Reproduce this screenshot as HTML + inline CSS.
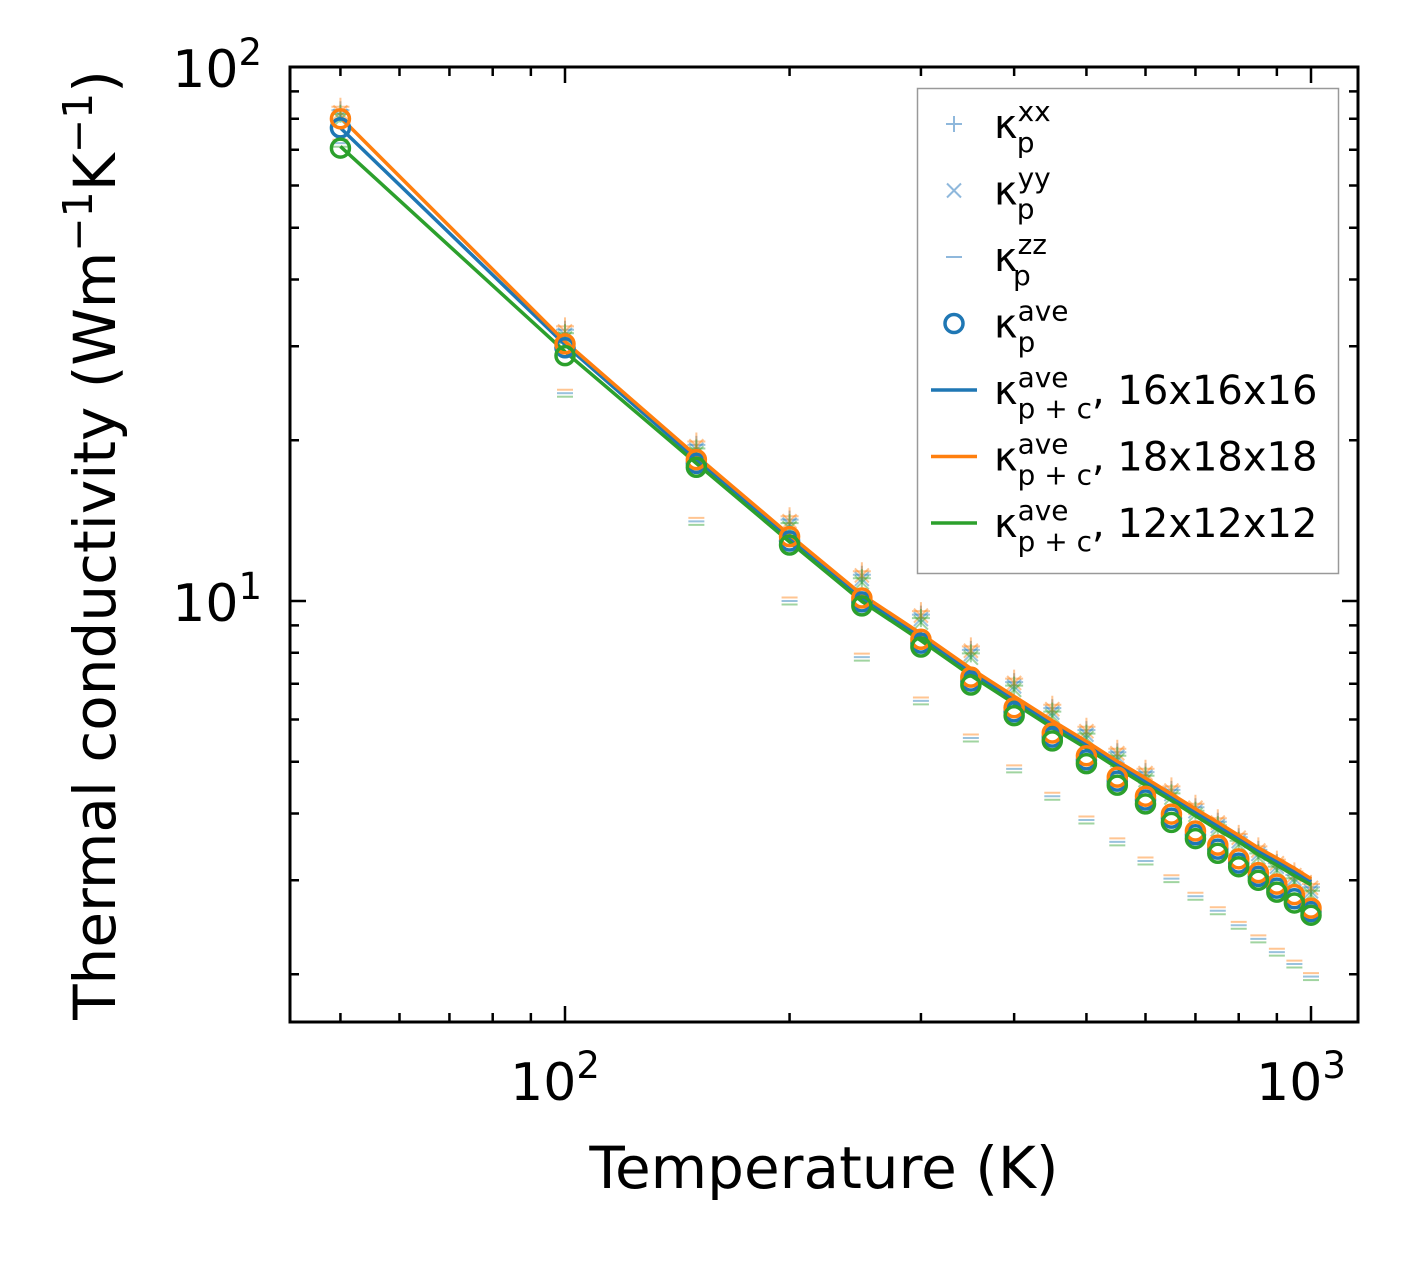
<!DOCTYPE html>
<html><head><meta charset="utf-8"><style>
body{margin:0;background:#fff;}
svg{display:block;font-family:"DejaVu Sans","Liberation Sans",sans-serif;}
</style></head><body>
<svg id="chart" width="1420" height="1261" viewBox="0 0 1420 1261" xmlns="http://www.w3.org/2000/svg">
<rect width="1420" height="1261" fill="#fff"/>
<g id="marks"></g>
<g id="axes"></g>
<text x="824" y="1188" font-size="58" text-anchor="middle">Temperature (K)</text>
<text transform="translate(115,545) rotate(-90)" font-size="58" text-anchor="middle">Thermal conductivity (Wm<tspan dy="-23" font-size="41">−1</tspan><tspan dy="23">K</tspan><tspan dy="-23" font-size="41">−1</tspan><tspan dy="23">)</tspan></text>
<g id="legend">
<rect x="917.5" y="88.5" width="421" height="485" fill="#fff" stroke="#999" stroke-width="1.5"/>
</g>
</svg>
<script>
const temps=[50,100,150,200,250,300,350,400,450,500,550,600,650,700,750,800,850,900,950,1000];
const aveBlue=[76.9,29.8,18.1,12.95,9.96,8.34,7.08,6.20,5.56,5.04,4.60,4.24,3.92,3.65,3.43,3.23,3.05,2.90,2.77,2.62];
const aveOrange=[80.0,30.3,18.4,13.2,10.13,8.48,7.20,6.31,5.66,5.13,4.68,4.31,3.99,3.71,3.49,3.29,3.10,2.95,2.82,2.66];
const aveGreen=[70.5,28.8,17.8,12.73,9.79,8.20,6.96,6.10,5.47,4.96,4.52,4.17,3.85,3.59,3.37,3.18,3.00,2.85,2.72,2.58];
const lineBlue=[76.9,30.2,18.4,13.1,10.13,8.56,7.36,6.53,5.88,5.38,4.94,4.59,4.29,4.02,3.79,3.59,3.40,3.25,3.11,2.98];
const lineOrange=[80.5,30.6,18.7,13.3,10.28,8.69,7.47,6.63,5.97,5.46,5.01,4.66,4.35,4.08,3.85,3.64,3.45,3.30,3.16,3.02];
const lineGreen=[71.0,29.3,18.1,12.9,9.98,8.43,7.25,6.43,5.79,5.30,4.87,4.52,4.23,3.96,3.73,3.54,3.35,3.20,3.06,2.94];
const kxx=[83,32.2,19.6,14.2,11.2,9.43,8.10,7.05,6.30,5.73,5.21,4.78,4.43,4.11,3.86,3.61,3.42,3.23,3.07,2.91];
const kyy=[81,31.5,19.2,13.9,11.0,9.25,7.95,6.92,6.18,5.62,5.11,4.69,4.35,4.04,3.79,3.55,3.36,3.18,3.02,2.86];
const kzz=[72,24.5,14.1,10.0,7.85,6.50,5.54,4.85,4.31,3.89,3.54,3.26,3.02,2.80,2.63,2.47,2.33,2.20,2.09,1.98];
const xTickLabels=["2","3"];
const yTickLabels=["1","2"];

const L=290,R=1358,T=67,B=1022;
function xs(v){return 565+(Math.log10(v)-2)*746;}
function ys(v){return 67-(Math.log10(v)-2)*534;}
const NS="http://www.w3.org/2000/svg";
function mk(tag,attrs,parent){const e=document.createElementNS(NS,tag);for(const k in attrs)e.setAttribute(k,attrs[k]);parent.appendChild(e);return e;}
const marks=document.getElementById('marks'),axes=document.getElementById('axes'),leg=document.getElementById('legend');
const C={b:'#1f77b4',o:'#ff7f0e',g:'#2ca02c'};
const comps=[['b',1.0],['o',1.015],['g',0.985]];
comps.forEach(([c,f])=>{
 temps.forEach((t,i)=>{
  const x=xs(t);
  let y=ys(kxx[i]*f);
  const p=mk('path',{d:`M${x-9},${y}H${x+9}M${x},${y-9}V${y+9}`,stroke:C[c],'stroke-opacity':0.45,'stroke-width':2,fill:'none'},marks);
  
  
  y=ys(kyy[i]*f);
  const q=mk('path',{d:`M${x-7},${y-7}L${x+7},${y+7}M${x-7},${y+7}L${x+7},${y-7}`,stroke:C[c],'stroke-opacity':0.45,'stroke-width':2,fill:'none'},marks);
  
  
  y=ys(kzz[i]*f);
  const z=mk('path',{d:`M${x-8},${y}H${x+8}`,stroke:C[c],'stroke-opacity':0.45,'stroke-width':2,fill:'none'},marks);
  
  
 });
});
[[lineBlue,'b'],[lineOrange,'o'],[lineGreen,'g']].forEach(([arr,c])=>{
 const d=temps.map((t,i)=>(i?'L':'M')+xs(t).toFixed(1)+','+ys(arr[i]).toFixed(1)).join('');
 const p=mk('path',{d,stroke:C[c],'stroke-width':3.5,fill:'none'},marks);
 
 
});
[[aveBlue,'b'],[aveOrange,'o'],[aveGreen,'g']].forEach(([arr,c])=>{
 temps.forEach((t,i)=>{
  const e=mk('circle',{cx:xs(t),cy:ys(arr[i]),r:9,stroke:C[c],'stroke-width':3.5,fill:'none'},marks);
  
  
 });
});
const box=mk('rect',{x:L,y:T,width:R-L,height:B-T,fill:'none',stroke:'#000','stroke-width':3},axes);


let td='';
for(let d=1;d<=3;d++)for(let m=1;m<=9;m++){const v=m*Math.pow(10,d);const x=xs(v);if(x<L||x>R)continue;const len=m===1?16:9;td+=`M${x},${B}V${B-len}M${x},${T}V${T+len}`;}
for(let d=0;d<=2;d++)for(let m=1;m<=9;m++){const v=m*Math.pow(10,d);const y=ys(v);if(y<T-1||y>B)continue;const len=m===1?16:9;td+=`M${L},${y}H${L+len}M${R},${y}H${R-len}`;}
const tk=mk('path',{d:td,stroke:'#000','stroke-width':2.5,fill:'none'},axes);


xTickLabels.forEach(e=>{
 const t=mk('text',{x:xs(Math.pow(10,+e))-10,y:1100,'font-size':52,'text-anchor':'middle'},axes);
 
 
 t.innerHTML='10<tspan dy="-22" font-size="37">'+e+'</tspan>';
});
yTickLabels.forEach(e=>{
 const t=mk('text',{x:262,y:ys(Math.pow(10,+e))+20,'font-size':52,'text-anchor':'end'},axes);
 
 
 t.innerHTML='10<tspan dy="-22" font-size="37">'+e+'</tspan>';
});
const items=[
 ['plus','#8fb8dc','xx',''],['x','#8fb8dc','yy',''],['minus','#8fb8dc','zz',''],
 ['circle',C.b,'ave',''],['line',C.b,'ave',', 16x16x16'],['line',C.o,'ave',', 18x18x18'],['line',C.g,'ave',', 12x12x12']];
items.forEach((it,i)=>{
 const cy=124+i*66.5, mx=954;
 const g=mk('g',{},leg);
 
 
 if(it[0]==='plus')mk('path',{d:`M${mx-8},${cy}H${mx+8}M${mx},${cy-8}V${cy+8}`,stroke:it[1],'stroke-width':2},g);
 if(it[0]==='x')mk('path',{d:`M${mx-7},${cy-7}L${mx+7},${cy+7}M${mx-7},${cy+7}L${mx+7},${cy-7}`,stroke:it[1],'stroke-width':2},g);
 if(it[0]==='minus')mk('path',{d:`M${mx-8},${cy}H${mx+8}`,stroke:it[1],'stroke-width':2},g);
 if(it[0]==='circle')mk('circle',{cx:mx,cy:cy,r:9,stroke:it[1],'stroke-width':3.5,fill:'none'},g);
 if(it[0]==='line')mk('path',{d:`M931,${cy}H977`,stroke:it[1],'stroke-width':3.5},g);
 const t=mk('text',{x:994,y:cy+14,'font-size':40},g);
 const sub=it[3]?'p + c':'p';
 t.innerHTML='κ<tspan font-size="28" dy="-17">'+it[2]+'</tspan><tspan font-size="28" dx="'+(-(it[2].length*17))+'" dy="31">'+sub+'</tspan><tspan dy="-14">'+it[3]+'</tspan>';
});
</script>
</body></html>
